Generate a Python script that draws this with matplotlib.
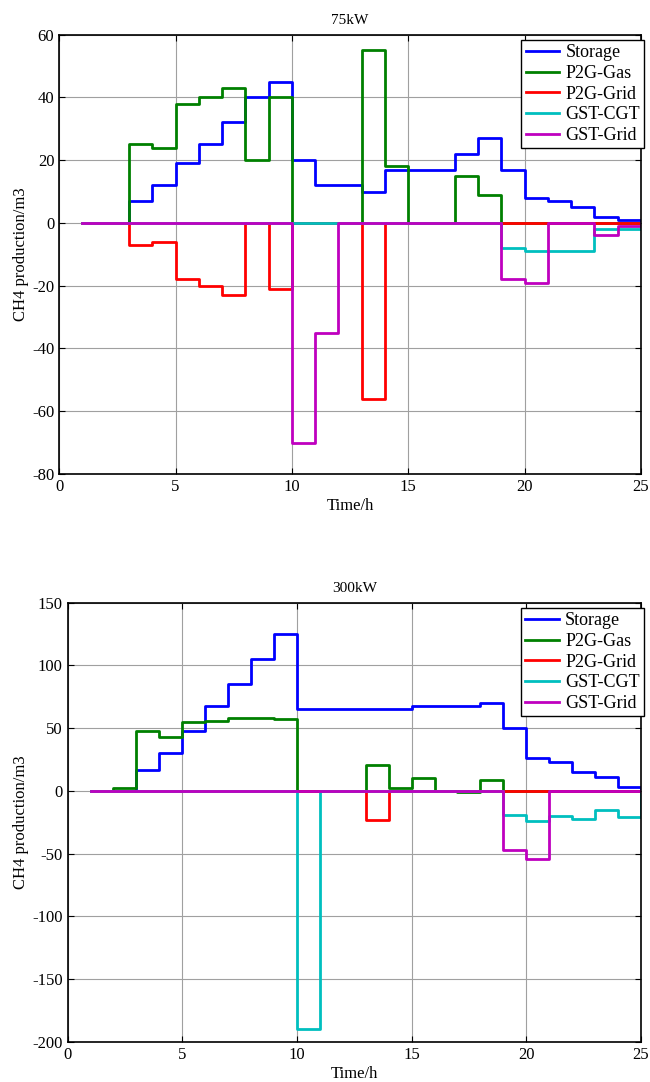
"""CH4 production step plots for 75kW and 300kW cases."""
import matplotlib

matplotlib.use("Agg")
import matplotlib.pyplot as plt
import numpy as np

plt.rcParams["font.family"] = ["Liberation Serif", "DejaVu Serif"]
plt.rcParams["axes.unicode_minus"] = False

# hours 1..25 (MATLAB-style stairs, last value only closes the step)
hours = np.arange(1, 26)
series_names = ["Storage", "P2G-Gas", "P2G-Grid", "GST-CGT", "GST-Grid"]
series_colors = ["#0000ff", "#008000", "#ff0000", "#00bfbf", "#bf00bf"]

# 75kW case
storage_75 = [0, 0, 7, 12, 19, 25, 32, 40, 45, 20, 12, 12, 10, 17, 17, 17, 22, 27, 17, 8, 7, 5, 2, 1, 0]
p2g_gas_75 = [0, 0, 25, 24, 38, 40, 43, 20, 40, 0, 0, 0, 55, 18, 0, 0, 15, 9, 0, 0, 0, 0, 0, 0, 0]
p2g_grid_75 = [0, 0, -7, -6, -18, -20, -23, 0, -21, 0, 0, 0, -56, 0, 0, 0, 0, 0, 0, 0, 0, 0, 0, 0, 0]
gst_cgt_75 = [0, 0, 0, 0, 0, 0, 0, 0, 0, 0, 0, 0, 0, 0, 0, 0, 0, 0, -8, -9, -9, -9, -2, -2, 0]
gst_grid_75 = [0, 0, 0, 0, 0, 0, 0, 0, 0, -70, -35, 0, 0, 0, 0, 0, 0, 0, -18, -19, 0, 0, -4, -1, 0]

# 300kW case
storage_300 = [0, 0, 17, 30, 48, 68, 85, 105, 125, 65, 65, 65, 65, 65, 68, 68, 68, 70, 50, 26, 23, 15, 11, 3, 0]
p2g_gas_300 = [0, 2, 48, 43, 55, 56, 58, 58, 57, 0, 0, 0, 21, 2.5, 10, 0, -1, 9, 0, 0, 0, 0, 0, 0, 0]
p2g_grid_300 = [0, 0, 0, 0, 0, 0, 0, 0, 0, 0, 0, 0, -23, 0, 0, 0, 0, 0, 0, 0, 0, 0, 0, 0, 0]
gst_cgt_300 = [0, 0, 0, 0, 0, 0, 0, 0, 0, -190, 0, 0, 0, 0, 0, 0, 0, 0, -19, -24, -20, -22, -15, -21, 0]
gst_grid_300 = [0, 0, 0, 0, 0, 0, 0, 0, 0, 0, 0, 0, 0, 0, 0, 0, 0, 0, -47, -54, 0, 0, 0, 0, 0]


def _panel(ax, data, title, yticks):
    for vals, name, col in zip(data, series_names, series_colors):
        ax.step(hours, vals, where="post", color=col, lw=2, label=name)
    ax.set_xlim(0, 25)
    ax.set_xticks([0, 5, 10, 15, 20, 25])
    ax.set_ylim(yticks[0], yticks[-1])
    ax.set_yticks(yticks)
    ax.grid(True, color="#a0a0a0", lw=0.8)
    ax.tick_params(direction="in", top=True, right=True, labelsize=12, length=4)
    for sp in ax.spines.values():
        sp.set_linewidth(1.2)
    ax.set_title(title, fontsize=11, pad=8)
    ax.set_xlabel("Time/h", fontsize=12, labelpad=2)
    ax.set_ylabel("CH4 production/m3", fontsize=12, labelpad=2)
    leg = ax.legend(loc="upper right", bbox_to_anchor=(1.006, 0.988), fontsize=13,
                    handlelength=1.85, borderaxespad=0.0, fancybox=False,
                    framealpha=1, labelspacing=0.2, handletextpad=0.35,
                    borderpad=0.25)
    leg.get_frame().set_edgecolor("black")
    leg.get_frame().set_linewidth(1.0)


fig = plt.figure(figsize=(6.5, 10.82), dpi=100)
ax1 = fig.add_axes([0.091, 0.562, 0.895, 0.406])
ax2 = fig.add_axes([0.104, 0.037, 0.882, 0.406])

_panel(ax1, [storage_75, p2g_gas_75, p2g_grid_75, gst_cgt_75, gst_grid_75],
       "75kW", list(range(-80, 61, 20)))
_panel(ax2, [storage_300, p2g_gas_300, p2g_grid_300, gst_cgt_300, gst_grid_300],
       "300kW", list(range(-200, 151, 50)))

fig.savefig("out.png", dpi=100)
